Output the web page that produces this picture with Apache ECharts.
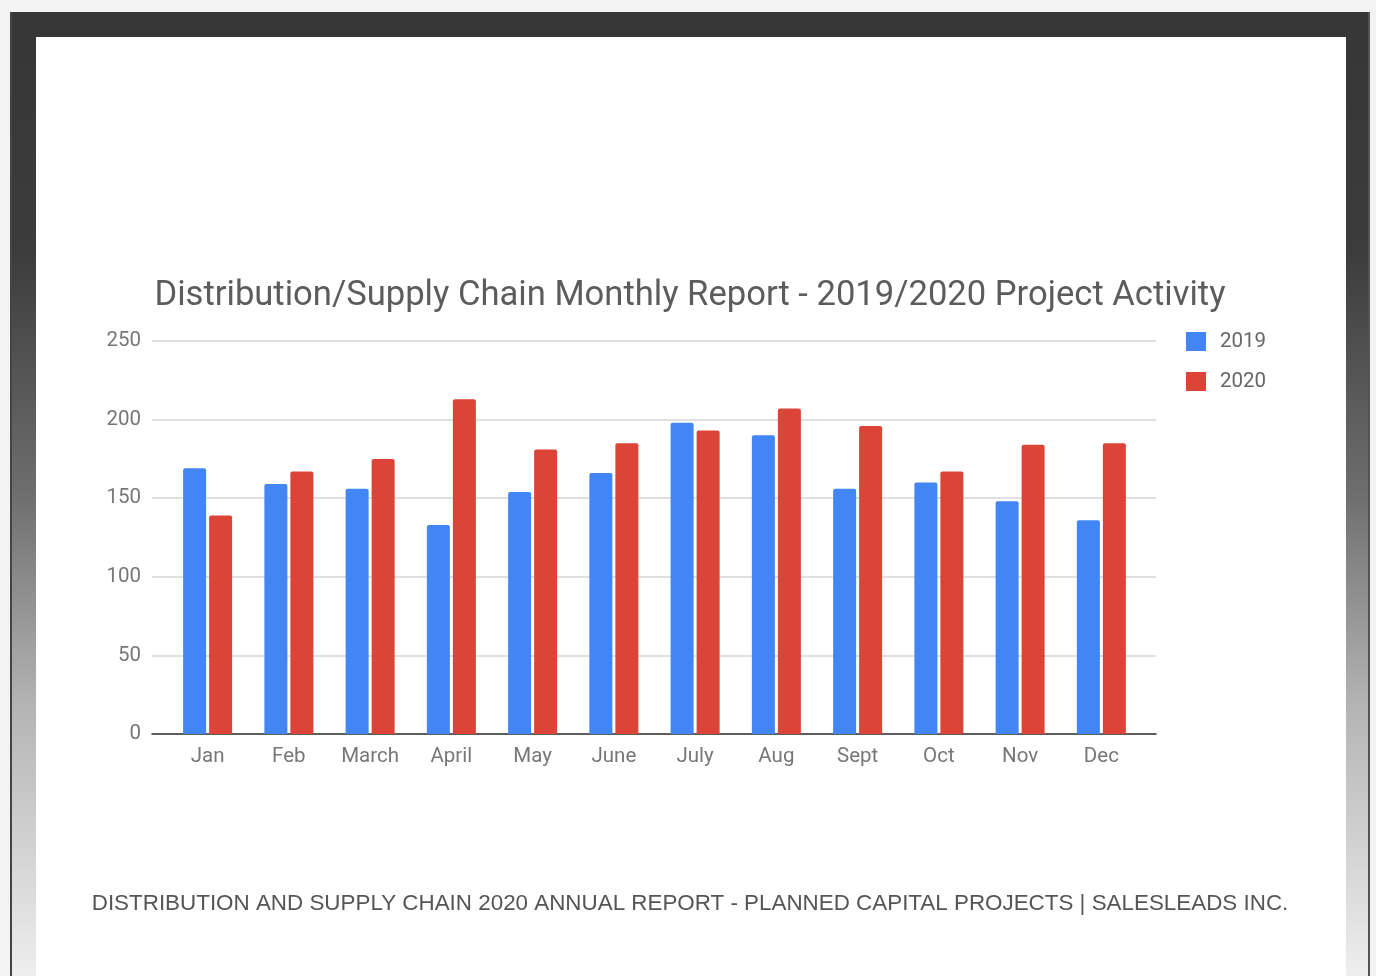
<!DOCTYPE html>
<html>
<head>
<meta charset="utf-8">
<title>Distribution/Supply Chain Monthly Report</title>
<script src="https://cdn.jsdelivr.net/npm/echarts@6/dist/echarts.min.js"></script>
<style>
    html, body {margin: 0; padding: 0; width: 1376px; height: 976px; overflow: hidden; background: #f3f3f3;}
    .frame {
        position: absolute; left: 10px; top: 12px; width: 1360px; height: 964px;
        background: linear-gradient(to bottom, #363636 0%, #3c3c3c 25%, #6e6e6e 50%, #b4b4b4 72%, #eeeeee 100%);
        box-sizing: border-box; border-left: 2px solid #444; border-right: 2px solid #555;
    }
    .panel {position: absolute; left: 36px; top: 37px; width: 1310px; height: 939px; background: #fff;}
    #chart {position: absolute; left: 0; top: 0; width: 1376px; height: 976px;}
</style>
</head>
<body>
<div class="frame"></div>
<div class="panel"></div>
<div id="chart"></div>
<script>
// categories + values
const months = ['Jan', 'Feb', 'March', 'April', 'May', 'June', 'July', 'Aug', 'Sept', 'Oct', 'Nov', 'Dec'];
const values2019 = [169, 159, 156, 133, 154, 166, 198, 190, 156, 160, 148, 136];
const values2020 = [139, 167, 175, 213, 181, 185, 193, 207, 196, 167, 184, 185];
const yTicks = {min: 0, max: 250, interval: 50};

const chart = echarts.init(document.getElementById('chart'), null, {renderer: 'canvas'});

const labelFont = 20.5;

const barStyle = (color) => ({
    type: 'bar',
    xAxisIndex: 1,
    yAxisIndex: 1,
    barWidth: 23,
    barGap: '13%',
    itemStyle: {color: color, borderRadius: [2, 2, 0, 0]}
});

chart.setOption({
    backgroundColor: 'transparent',
    animation: false,
    textStyle: {fontFamily: 'Roboto'},
    title: [
        {
            text: 'Distribution/Supply Chain Monthly Report - 2019/2020 Project Activity',
            left: 685, top: 274, textAlign: 'center',
            textStyle: {fontSize: 34.6, fontWeight: 'normal', color: '#5c5c5c', fontFamily: 'Roboto'}
        },
        {
            text: 'DISTRIBUTION AND SUPPLY CHAIN 2020 ANNUAL REPORT - PLANNED CAPITAL PROJECTS | SALESLEADS INC.',
            left: 685, top: 888, textAlign: 'center',
            textStyle: {fontSize: 22.4, fontWeight: 'normal', color: '#555', fontFamily: 'Liberation Sans'}
        }
    ],
    legend: {
        orient: 'vertical',
        left: 1186, top: 331, padding: 0,
        itemWidth: 20, itemHeight: 19, itemGap: 19,
        icon: 'rect',
        textStyle: {fontSize: labelFont, color: '#666', padding: [0, 0, 0, 9]},
        data: ['2019', '2020']
    },
    // grid 0: gridlines + baseline across full width, grid 1: bars inset a bit
    grid: [
        {left: 152, right: 220, top: 341, bottom: 242},
        {left: 167, right: 234, top: 341, bottom: 242}
    ],
    xAxis: [
        {
            type: 'value', gridIndex: 0, min: 0, max: 1,
            axisLine: {show: true, onZero: false, lineStyle: {color: '#333', width: 1.5}},
            axisTick: {show: false}, axisLabel: {show: false}, splitLine: {show: false}
        },
        {
            type: 'category', gridIndex: 1,
            data: months,
            axisLine: {show: false},
            axisTick: {show: false},
            axisLabel: {fontSize: labelFont, color: '#777', margin: 12}
        }
    ],
    yAxis: [
        {
            type: 'value', gridIndex: 0,
            min: yTicks.min, max: yTicks.max, interval: yTicks.interval,
            axisLine: {show: false},
            axisTick: {show: false},
            axisLabel: {fontSize: labelFont, color: '#777', margin: 11},
            splitLine: {lineStyle: {color: '#d6d6d6', width: 1.5}}
        },
        {
            type: 'value', gridIndex: 1,
            min: yTicks.min, max: yTicks.max, interval: yTicks.interval,
            show: false, splitLine: {show: false}
        }
    ],
    series: [
        Object.assign({name: '2019', data: values2019}, barStyle('#4285f4')),
        Object.assign({name: '2020', data: values2020}, barStyle('#db4437'))
    ]
});
</script>
</body>
</html>
